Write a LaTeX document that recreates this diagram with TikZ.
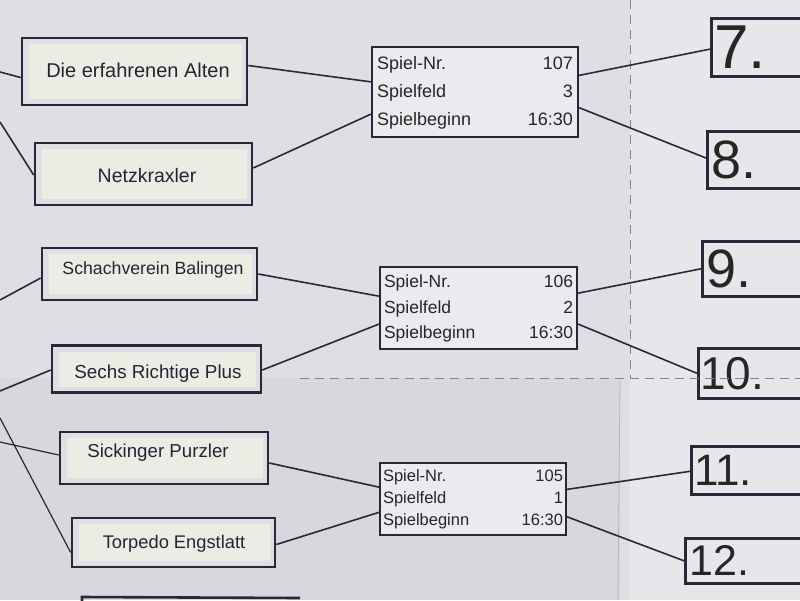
\documentclass[tikz,border=0pt]{standalone}
\usepackage{fontspec}
\setmainfont{Liberation Sans}
\usetikzlibrary{calc}
\definecolor{bg}{RGB}{222,222,228}
\definecolor{bgright}{RGB}{230,230,235}
\definecolor{ink}{RGB}{38,42,56}
\definecolor{labelcol}{RGB}{236,235,228}
\definecolor{foldcol}{RGB}{130,130,140}
\tikzset{
  team/.style={draw=ink, line width=2.6pt, fill=bg, minimum height=#1, inner sep=0pt,
    path picture={\fill[labelcol] ([shift={(7pt,-6pt)}]path picture bounding box.north west) rectangle ([shift={(-5pt,6pt)}]path picture bounding box.south east);}},
  teamtxt/.style={font=\fontsize{#1}{#1}\selectfont, text=ink!90!black},
  game/.style={draw=ink, line width=2.2pt, fill=bg!60!white, inner sep=3pt, text=black!85},
  result/.style={draw=ink, line width=2.6pt, fill=bgright, anchor=north west, inner ysep=0pt, inner xsep=0pt, align=left, text=black!85},
  conn/.style={draw=ink, line width=1.6pt},
  fold/.style={draw=foldcol, line width=1pt, dash pattern=on 9pt off 6pt}
}
\newcommand{\gametab}[4]{{\fontsize{#1}{#2}\selectfont\begin{tabular*}{#3}{@{}l@{\extracolsep{\fill}}r@{}}#4\end{tabular*}}}
\begin{document}
\begin{tikzpicture}[x=1pt,y=-1pt]
\useasboundingbox (0,0) rectangle (800,600);
\fill[bg] (0,0) rectangle (630,600);
\fill[bgright] (630,0) rectangle (800,600);
\fill[bg!97!black] (0,378) rectangle (620,600);
% folds
\draw[fold] (630,0) -- (630,378);
\draw[fold] (300,378) -- (800,378);
\draw[draw=foldcol!60, line width=0.8pt] (620,380) -- (618,600);
% team boxes
\node[team=67pt, minimum width=225pt] (t1) at (134.5,71.5) {};
\node[teamtxt=20] (t1txt) at (138,70) {Die erfahrenen Alten};
\node[team=62pt, minimum width=217pt] (t2) at (143.5,174) {};
\node[teamtxt=19.5] (t2txt) at (147,176) {Netzkraxler};
\node[team=52pt, minimum width=215pt] (t3) at (149.5,274) {};
\node[teamtxt=17.7] (t3txt) at (153,270) {Schachverein Balingen};
\node[team=47pt, minimum width=209pt] (t4) at (156.5,369) {};
\node[teamtxt=18.8] (t4txt) at (158,374) {Sechs Richtige Plus};
\node[team=52pt, minimum width=208pt] (t5) at (164,458) {};
\node[teamtxt=18.7] (t5txt) at (158,453) {Sickinger Purzler};
\node[team=49pt, minimum width=203pt] (t6) at (173.5,542.5) {};
\node[teamtxt=18.3] (t6txt) at (174,544) {Torpedo Engstlatt};
% partial box at bottom
\coordinate (pb1) at (82,603);
\coordinate (pb2) at (82,597);
\coordinate (pb3) at (300,598);
\draw[draw=ink, line width=2.6pt] (pb1) -- (pb2) -- (pb3);
% game boxes
\node[game, minimum width=206pt, minimum height=84pt] (g107) at (475,92)
  {\gametab{18}{28}{196pt}{Spiel-Nr. & 107\\ Spielfeld & 3\\ Spielbeginn & 16:30}};
\node[game, minimum width=197pt, minimum height=80pt] (g106) at (478.5,308)
  {\gametab{17.5}{25.5}{189pt}{Spiel-Nr. & 106\\ Spielfeld & 2\\ Spielbeginn & 16:30}};
\node[game, minimum width=186pt, minimum height=68pt] (g105) at (473,499)
  {\gametab{16.5}{22}{180pt}{Spiel-Nr. & 105\\ Spielfeld & 1\\ Spielbeginn & 16:30}};
% result boxes
\node[result, text width=100pt, minimum height=58pt, font=\fontsize{62}{62}\selectfont] (r7) at (710,17) {\hspace*{3pt}7.};
\node[result, text width=100pt, minimum height=57pt, font=\fontsize{54}{54}\selectfont] (r8) at (706,130) {\hspace*{4pt}8.};
\node[result, text width=105pt, minimum height=55pt, font=\fontsize{54}{54}\selectfont] (r9) at (701,240) {\hspace*{4pt}9.};
\node[result, text width=110pt, minimum height=50pt, font=\fontsize{46}{46}\selectfont] (r10) at (697,347) {\hspace*{2pt}10.};
\node[result, text width=115pt, minimum height=48pt, font=\fontsize{44}{44}\selectfont] (r11) at (690,445) {\hspace*{3pt}11.};
\node[result, text width=120pt, minimum height=45pt, font=\fontsize{43}{43}\selectfont] (r12) at (684,537) {\hspace*{4pt}12.};
% redraw fold over result box 10
\draw[fold] (630,378) -- (800,378);
% connectors team -> game
\draw[conn] ([yshift=6pt]t1.east) -- ($(g107.north west)!0.39!(g107.south west)$);
\draw[conn] ([yshift=6pt]t2.east) -- ($(g107.north west)!0.74!(g107.south west)$);
\draw[conn] (t3.east) -- ($(g106.north west)!0.36!(g106.south west)$);
\draw[conn] ([yshift=-1pt]t4.east) -- ($(g106.north west)!0.69!(g106.south west)$);
\draw[conn] ([yshift=-5pt]t5.east) -- ($(g105.north west)!0.34!(g105.south west)$);
\draw[conn] ([yshift=-2pt]t6.east) -- ($(g105.north west)!0.68!(g105.south west)$);
% connectors game -> result
\draw[conn] ($(g107.north east)!0.32!(g107.south east)$) -- ($(r7.north west)!0.53!(r7.south west)$);
\draw[conn] ($(g107.north east)!0.67!(g107.south east)$) -- ($(r8.north west)!0.47!(r8.south west)$);
\draw[conn] ($(g106.north east)!0.325!(g106.south east)$) -- ($(r9.north west)!0.5!(r9.south west)$);
\draw[conn] ($(g106.north east)!0.69!(g106.south east)$) -- ($(r10.north west)!0.5!(r10.south west)$);
\draw[conn] ($(g105.north east)!0.37!(g105.south east)$) -- ($(r11.north west)!0.52!(r11.south west)$);
\draw[conn] ($(g105.north east)!0.74!(g105.south east)$) -- ($(r12.north west)!0.5!(r12.south west)$);
% connectors from the left edge
\coordinate (l1) at (0,72);
\coordinate (l2) at (0,122);
\coordinate (l3) at (0,300);
\coordinate (l4) at (0,391);
\coordinate (l5) at (0,442);
\coordinate (l6) at (0,418);
\draw[conn] (l1) -- ([yshift=-6pt]t1.west);
\draw[conn] (l2) -- ([yshift=-1pt]t2.west);
\draw[conn] (l3) -- ([yshift=-4pt]t3.west);
\draw[conn] (l4) -- ([yshift=-1pt]t4.west);
\draw[conn, line width=1.2pt] (l5) -- ([yshift=3pt]t5.west);
\draw[conn, line width=1.2pt] (l6) -- ([yshift=-10pt]t6.west);
\end{tikzpicture}
\end{document}
